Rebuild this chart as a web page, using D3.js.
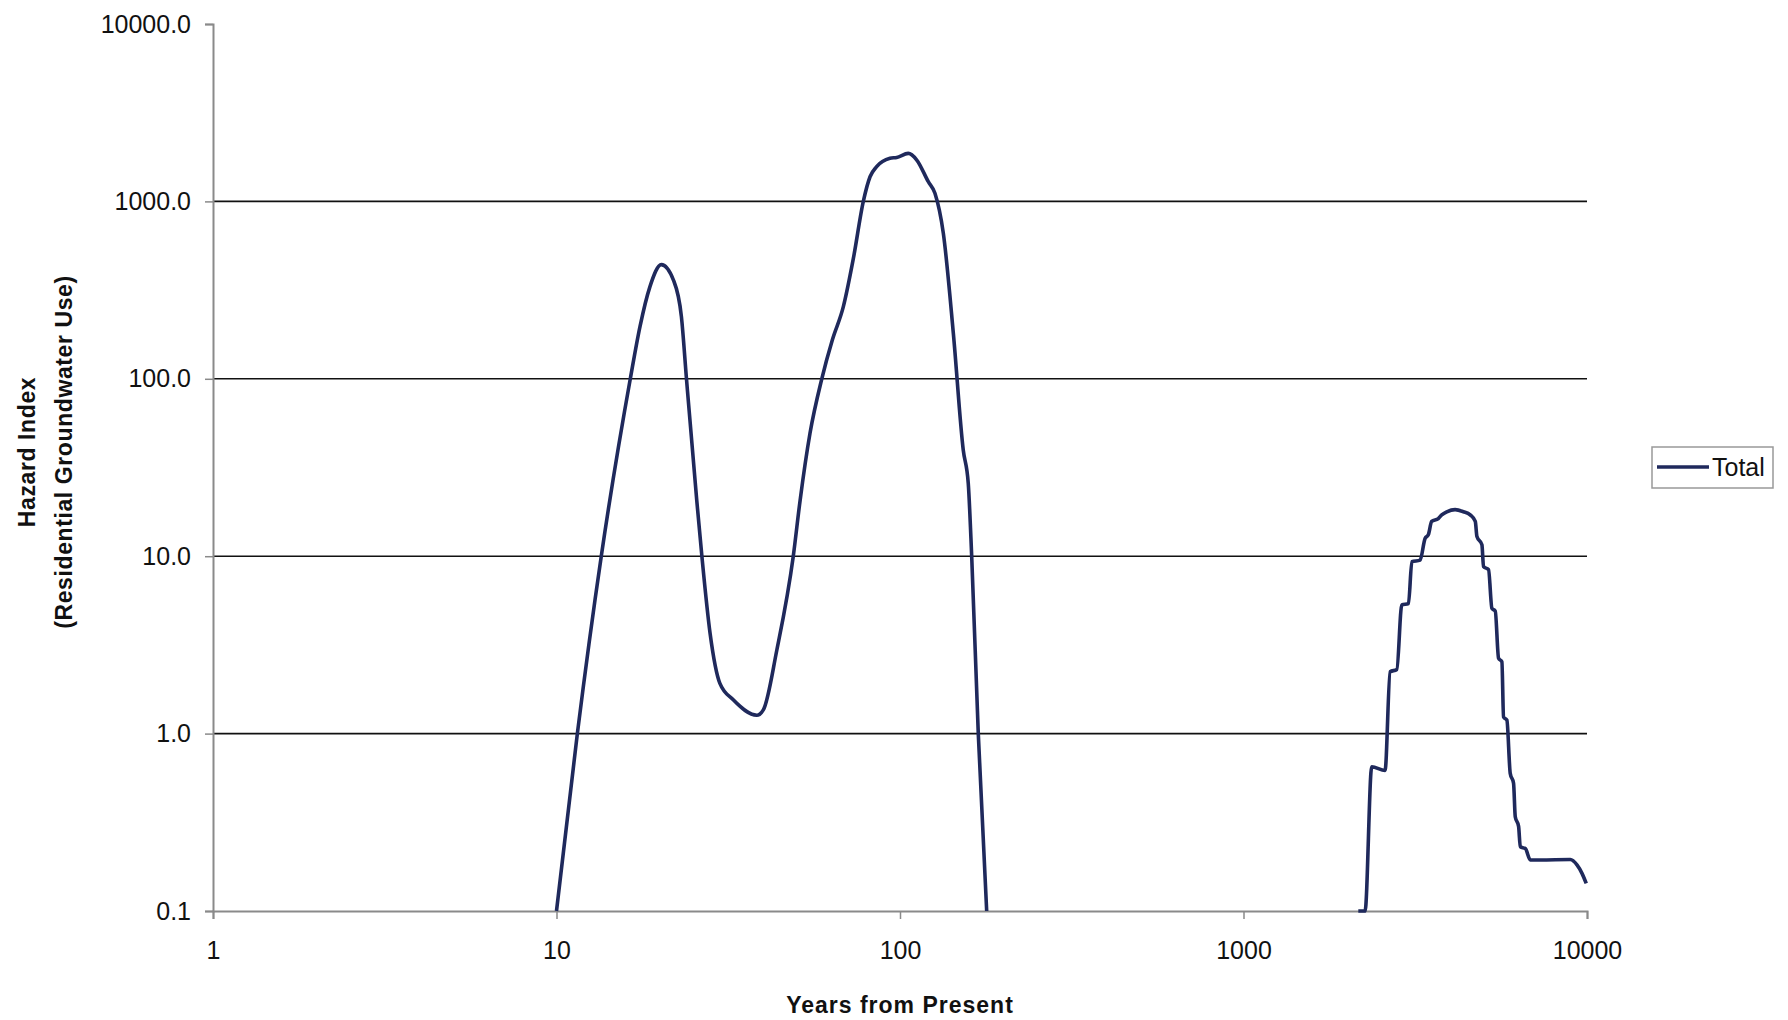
<!DOCTYPE html>
<html>
<head>
<meta charset="utf-8">
<script src="https://cdn.jsdelivr.net/npm/d3@7"></script>
<style>
  body { margin: 0; background: #fff; }
  svg { display: block; font-family: "Liberation Sans", Arial, sans-serif; }
</style>
</head>
<body>
<div class="chart"></div>
<script>
//////////////////////////////////////////////////////////////
///////////////////////// Data ///////////////////////////////
//////////////////////////////////////////////////////////////

// years from present (null = gap where the line falls below 0.1)
var years = [10, 11.5, 13.5, 16.4, 17.5, 18.7, 20.2, 21.9, 23.1, 23.9, 25.6, 26.5,
  28.0, 29.9, 32.7, 38.3, 40.0, 43.8, 48.9, 51.2, 54.7, 59.2, 63.5, 68.4, 73.2, 78.2,
  81.8, 85.5, 93.5, 97.8, 105.7, 111.9, 120.9, 126.4, 133.7, 143, 152.8, 158, 161.7,
  169, 178.8,
  500,
  2159, 2259, 2362, 2583, 2672, 2795, 2889, 3022, 3091, 3267, 3377, 3452, 3530, 3691,
  3777, 3907, 4130, 4368, 4570, 4729, 4782, 4944, 4998, 5168, 5287, 5407, 5527, 5652,
  5716, 5845, 5977, 6112, 6182, 6322, 6394, 6614, 6839, 7310, 8940, 9350, 9670, 9950];

var hazard = [0.1, 1.0, 10, 100, 197, 330, 440, 360, 224, 100, 20.7, 10,
  3.67, 1.92, 1.55, 1.27, 1.36, 2.96, 10, 20.7, 49.3, 100, 165, 255, 480, 1000,
  1377, 1570, 1750, 1770, 1864, 1711, 1291, 1111, 661, 180, 39.7, 25.8, 10,
  1.0, 0.1,
  null,
  0.1, 0.1, 0.65, 0.62, 2.23, 2.3, 5.31, 5.4, 9.31, 9.5, 12.6, 13.2, 15.7, 16.3,
  17.1, 17.8, 18.3, 17.8, 17.1, 15.7, 12.9, 11.6, 8.73, 8.4, 5.08, 4.9, 2.66, 2.54,
  1.24, 1.19, 0.597, 0.525, 0.34, 0.30, 0.23, 0.225, 0.194, 0.194, 0.195, 0.182, 0.163, 0.143];

var yTicks = [0.1, 1, 10, 100, 1000, 10000];
var xTicks = [1, 10, 100, 1000, 10000];
var seriesName = "Total";

//////////////////////////////////////////////////////////////
///////////////////// General settings ///////////////////////
//////////////////////////////////////////////////////////////

var width = 1788, height = 1020;
var plot = {left: 213, right: 1587, top: 24, bottom: 911};
var lineColor = "#1f295c";

var svg = d3.select(".chart").append("svg")
    .attr("width", width)
    .attr("height", height);

var xScale = d3.scaleLog().domain([1, 10000]).range([plot.left, plot.right]);
var yScale = d3.scaleLog().domain([0.1, 10000]).range([plot.bottom, plot.top]);

//////////////////////////////////////////////////////////////
////////////////////////// Grid //////////////////////////////
//////////////////////////////////////////////////////////////

svg.append("g").attr("class", "grid")
  .selectAll("line")
  .data(yTicks.filter(function(d) { return d > 0.1 && d < 10000; }))
  .enter().append("line")
    .attr("x1", plot.left)
    .attr("x2", plot.right)
    .attr("y1", function(d) { return yScale(d); })
    .attr("y2", function(d) { return yScale(d); })
    .attr("stroke", "#111")
    .attr("stroke-width", 1.6);

//////////////////////////////////////////////////////////////
////////////////////////// Axes //////////////////////////////
//////////////////////////////////////////////////////////////

var yAxis = d3.axisLeft(yScale)
    .tickValues(yTicks)
    .tickFormat(d3.format(".1f"))
    .tickSize(8)
    .tickPadding(14);

var gy = svg.append("g")
    .attr("class", "y axis")
    .attr("transform", "translate(" + plot.left + ",0)")
    .call(yAxis);

var xAxis = d3.axisBottom(xScale)
    .tickValues(xTicks)
    .tickFormat(d3.format("d"))
    .tickSize(8)
    .tickPadding(22);

var gx = svg.append("g")
    .attr("class", "x axis")
    .attr("transform", "translate(0," + plot.bottom + ")")
    .call(xAxis);

[gx, gy].forEach(function(g) {
  g.select(".domain").attr("stroke", "#8a8a8a").attr("stroke-width", 2);
  g.selectAll(".tick line").attr("stroke", "#8a8a8a").attr("stroke-width", 1.5);
  g.selectAll(".tick text")
    .attr("fill", "#111")
    .style("font-size", "25px")
    .style("font-family", "'Liberation Sans', Arial, sans-serif");
});

// axis titles
svg.append("text")
    .attr("x", (plot.left + plot.right) / 2)
    .attr("y", 1013)
    .attr("text-anchor", "middle")
    .style("font-size", "23px")
    .style("font-weight", "bold")
    .style("letter-spacing", "1px")
    .attr("fill", "#111")
    .text("Years from Present");

var yTitle = svg.append("text")
    .attr("transform", "translate(35," + 452 + ") rotate(-90)")
    .attr("text-anchor", "middle")
    .style("font-size", "23px")
    .style("font-weight", "bold")
    .style("letter-spacing", "0.6px")
    .attr("fill", "#111");

yTitle.append("tspan").attr("x", 0).attr("dy", 0).text("Hazard Index");
yTitle.append("tspan").attr("x", 0).attr("dy", 37).text("(Residential Groundwater Use)");

//////////////////////////////////////////////////////////////
////////////////////////// Line //////////////////////////////
//////////////////////////////////////////////////////////////

var points = years.map(function(y, i) { return {year: y, value: hazard[i]}; });

var line = d3.line()
    .defined(function(d) { return d.value !== null; })
    .x(function(d) { return xScale(d.year); })
    .y(function(d) { return yScale(d.value); })
    .curve(d3.curveMonotoneX);

svg.append("path")
    .datum(points)
    .attr("class", "lineTotal")
    .attr("fill", "none")
    .attr("stroke", lineColor)
    .attr("stroke-width", 3.6)
    .attr("stroke-linejoin", "round")
    .attr("d", line);

//////////////////////////////////////////////////////////////
///////////////////////// Legend /////////////////////////////
//////////////////////////////////////////////////////////////

var legend = svg.append("g")
    .attr("class", "legend")
    .attr("transform", "translate(1652,447)");

legend.append("rect")
    .attr("width", 121)
    .attr("height", 41)
    .attr("fill", "#fff")
    .attr("stroke", "#999")
    .attr("stroke-width", 1.5);

legend.append("line")
    .attr("x1", 5).attr("x2", 57)
    .attr("y1", 20).attr("y2", 20)
    .attr("stroke", lineColor)
    .attr("stroke-width", 3.6);

legend.append("text")
    .attr("x", 60)
    .attr("y", 29)
    .style("font-size", "25px")
    .attr("fill", "#111")
    .text(seriesName);
</script>
</body>
</html>
